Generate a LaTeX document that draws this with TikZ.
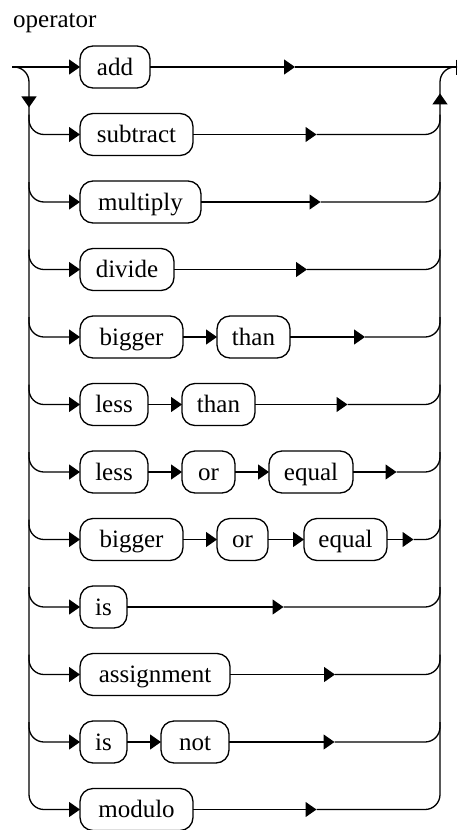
\documentclass[tikz,border=0pt]{standalone}
\usepackage{fontspec}
\setmainfont{Liberation Serif}
\usetikzlibrary{arrows.meta, positioning, calc, decorations.markings}
\tikzset{
  word/.style={rectangle, draw, rounded corners=13pt, line width=1.3pt,
               minimum height=42pt, inner xsep=12pt, inner ysep=0pt, outer sep=0pt,
               text height=16.5pt, text depth=0pt, font=\fontsize{25}{30}\selectfont},
  flow/.style={-{Triangle[length=11pt, width=15pt]}, line width=1.3pt},
  rail/.style={line width=1.3pt, rounded corners=15pt},
  busarrow/.style={postaction={decorate}, decoration={markings,
      mark=at position #1 with {\arrow{Triangle[length=11pt, width=15pt]}}}},
}
\begin{document}
\begin{tikzpicture}[x=1pt, y=1pt, node distance=34pt]
  \useasboundingbox (0,0) rectangle (458,-830);
  \node[anchor=base west, inner sep=0pt, font=\fontsize{25}{30}\selectfont] (title) at (13,-27) {operator};

  \coordinate (in) at (12,-67);
  \coordinate (out) at (457,-67);
  \coordinate (lbus) at (29,0);
  \coordinate (rbus) at (440,0);

  % one row per alternative
  \node[word, anchor=west, minimum width=70pt] (add) at (80,-67) {add};
  \node[word, below right=25.5pt and 0pt of add.south west, minimum width=113pt] (sub) {subtract};
  \node[word, below right=25.5pt and 0pt of sub.south west, minimum width=121pt] (mul) {multiply};
  \node[word, below right=25.5pt and 0pt of mul.south west, minimum width=94pt] (div) {divide};
  \node[word, below right=25.5pt and 0pt of div.south west, minimum width=103pt] (gt1) {bigger};
  \node[word, right=of gt1, minimum width=73pt] (gt2) {than};
  \node[word, below right=25.5pt and 0pt of gt1.south west, minimum width=68pt] (lt1) {less};
  \node[word, right=of lt1, minimum width=73pt] (lt2) {than};
  \node[word, below right=25.5pt and 0pt of lt1.south west, minimum width=68pt] (le1) {less};
  \node[word, right=of le1, minimum width=53pt] (le2) {or};
  \node[word, right=of le2, minimum width=84pt] (le3) {equal};
  \node[word, below right=25.5pt and 0pt of le1.south west, minimum width=103pt] (ge1) {bigger};
  \node[word, right=of ge1, minimum width=51pt] (ge2) {or};
  \node[word, right=36pt of ge2, minimum width=83pt] (ge3) {equal};
  \node[word, below right=25.5pt and 0pt of ge1.south west, minimum width=47pt] (is) {is};
  \node[word, below right=25.5pt and 0pt of is.south west, minimum width=150pt] (asg) {assignment};
  \node[word, below right=25.5pt and 0pt of asg.south west, minimum width=47pt] (ne1) {is};
  \node[word, right=of ne1, minimum width=68pt] (ne2) {not};
  \node[word, below right=25.5pt and 0pt of ne1.south west, minimum width=113pt] (mod) {modulo};

  % main line
  \draw[flow] (in) -- (add);
  \draw[flow] (add) -- ($(add.east)!.5!(add.east -| rbus)$) coordinate (madd);
  \draw[line width=1.3pt, -{Bar[width=15pt]}] (madd) -- (out);

  % left and right bus
  \draw[flow, rounded corners=15pt, busarrow=51pt] (in) -| (lbus |- mod) -- (mod);
  \draw[flow] (mod) -- ($(mod.east)!.5!(mod.east -| rbus)$) coordinate (mmod);
  \draw[rail, busarrow=-37pt] (mmod) -| (rbus |- out) -- (out);

  % inside the row
  \draw[flow] (gt1) -- (gt2);
  \draw[flow] (lt1) -- (lt2);
  \draw[flow] (le1) -- (le2);
  \draw[flow] (le2) -- (le3);
  \draw[flow] (ge1) -- (ge2);
  \draw[flow] (ge2) -- (ge3);
  \draw[flow] (ne1) -- (ne2);

  \foreach \n in {sub, mul, div, gt1, lt1, le1, ge1, is, asg, ne1} {
    \draw[flow, rounded corners=15pt] ($(\n.west -| lbus)+(0,20)$) |- (\n);
  }
  \foreach \n in {sub, mul, div, gt2, lt2, le3, ge3, is, asg, ne2} {
    \draw[flow] (\n) -- ($(\n.east)!.5!(\n.east -| rbus)$) coordinate (m\n);
    \draw[rail] (m\n) -| ($(\n.east -| rbus)+(0,20)$);
  }
\end{tikzpicture}
\end{document}
